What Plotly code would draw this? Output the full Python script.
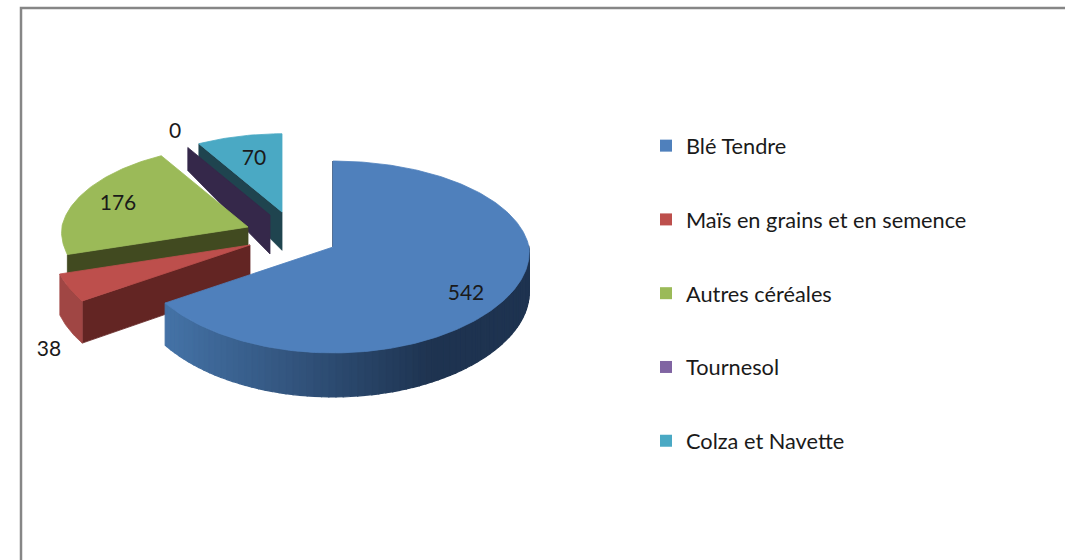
import numpy as np
import plotly.graph_objects as go

# --- data ---
categories = ["Blé Tendre", "Maïs en grains et en semence", "Autres céréales", "Tournesol", "Colza et Navette"]
values = [542, 38, 176, 0, 70]

# --- styles ---
top_colors = ["#4f80bc", "#bd4f4c", "#9bba58", "#8064a2", "#4aa9c4"]
cut_colors = ["#1e3350", "#632523", "#414a20", "#35284a", "#1f444f"]
rim_colors = [None, "#a04644", None, None, None]
apex_px = [(333, 247), (250, 245), (248, 227), (270, 215), (282, 212)]
slice_scale = [1.0, 1.0, 0.95, 0.9, 0.91]
label_px = [(466, 294.5), (49, 350.5), (118, 204.5), (175, 132.5), (254, 159.5)]
FONT = "Lato"

# --- projection of the tilted pie ---
A_X, A_Y, PERSP = 196.0, -94.9, 0.104


def rim_point(theta, apex, scale):
    t = np.cos(theta)
    den = 1 + PERSP * t
    den_x = 1 + PERSP * np.where(t < 0, 0.5 * t, t)
    return apex[0] + scale * A_X * np.sin(theta) / den_x, apex[1] + scale * A_Y * t / den


def depth(y):
    return np.interp(y, [147, 215, 353], [23, 39, 44])


def down(xs, ys):
    ys = np.asarray(ys, dtype=float)
    return ys + depth(ys)


def poly(xs, ys, color, lw=0.8):
    return go.Scatter(x=list(xs), y=list(ys), mode="lines", fill="toself", fillcolor=color,
                      line=dict(color=color, width=lw), hoverinfo="skip", showlegend=False)


def mix(c1, c2, f):
    a = [int(c1[i:i + 2], 16) for i in (1, 3, 5)]
    b = [int(c2[i:i + 2], 16) for i in (1, 3, 5)]
    return "rgb(%d,%d,%d)" % tuple(round(p + (q - p) * f) for p, q in zip(a, b))


total = sum(values)
edges = np.cumsum([0] + values) / total * 2 * np.pi

fig = go.Figure()

for i in [4, 3, 2, 1, 0]:
    a0, a1 = edges[i], edges[i + 1]
    apex, sc = apex_px[i], slice_scale[i]
    th = np.linspace(a0, a1, max(2, int(np.degrees(a1 - a0)) + 1))
    rx, ry = rim_point(th, apex, sc)

    if i == 0:
        # thin visible cut face on the starting edge
        x0, y0 = rim_point(a0, apex, sc)
        fig.add_trace(go.Scatter(x=[x0, apex[0]], y=[y0, apex[1]], mode="lines",
                                 line=dict(color=cut_colors[0], width=1.5),
                                 hoverinfo="skip", showlegend=False))
        # shaded outer wall
        vis = th[(np.cos(th) < 0.02)][::2]
        vis = np.r_[vis, a1]
        for k in range(len(vis) - 2, -1, -1):
            sx, sy = rim_point(vis[k:k + 2], apex, sc)
            f = np.clip((sx.mean() - 168) / (433 - 168), 0, 1)
            c = mix("#4472a6", "#1e3350", f)
            bx = sx[::-1]
            by = down(sx, sy)[::-1]
            fig.add_trace(poly(np.r_[sx, bx, sx[0]], np.r_[sy, by, sy[0]], c, lw=1.2))
    else:
        # cut face facing the viewer (the end of the slice with the lower outer point)
        x0, y0 = rim_point(a0, apex, sc)
        qx = np.array([apex[0], x0])
        qy = np.array([apex[1], y0])
        fig.add_trace(poly(np.r_[qx, qx[::-1], qx[0]],
                           np.r_[qy, down(qx, qy)[::-1], qy[0]], cut_colors[i]))
        if rim_colors[i]:
            fig.add_trace(poly(np.r_[rx, rx[::-1], rx[0]],
                               np.r_[ry, down(rx, ry)[::-1], ry[0]], rim_colors[i]))

    if a1 > a0:
        fig.add_trace(poly(np.r_[apex[0], rx, apex[0]], np.r_[apex[1], ry, apex[1]], top_colors[i]))

# value labels
fig.add_trace(go.Scatter(x=[p[0] for p in label_px], y=[p[1] for p in label_px],
                         mode="text", text=[str(v) for v in values],
                         textposition="middle center",
                         textfont=dict(family=FONT, size=21, color="#1a1a1a"),
                         hoverinfo="skip", showlegend=False))

# legend entries
for name, col in zip(categories, top_colors):
    fig.add_trace(go.Scatter(x=[None], y=[None], mode="markers", name=name, legendgroup=name,
                             marker=dict(symbol="square", size=12, color=col)))

fig.update_layout(
    width=1065, height=560, margin=dict(l=0, r=0, t=0, b=0),
    paper_bgcolor="white", plot_bgcolor="white",
    xaxis=dict(range=[0, 1065], visible=False, fixedrange=True),
    yaxis=dict(range=[560, 0], visible=False, fixedrange=True),
    legend=dict(x=658 / 1065, y=1 - 125 / 560, xanchor="left", yanchor="top",
                font=dict(family=FONT, size=21.75, color="#1a1a1a"),
                tracegroupgap=42.5, itemwidth=30, indentation=-12, bgcolor="rgba(0,0,0,0)"),
    shapes=[dict(type="path", xref="x", yref="y", path="M 21 562 L 21 8 L 1067 8",
                 line=dict(color="#868686", width=2.5))],
)

fig.write_html("out.html", config={"displayModeBar": False},
               post_script="document.body.style.margin='0';document.body.style.overflow='hidden';")
